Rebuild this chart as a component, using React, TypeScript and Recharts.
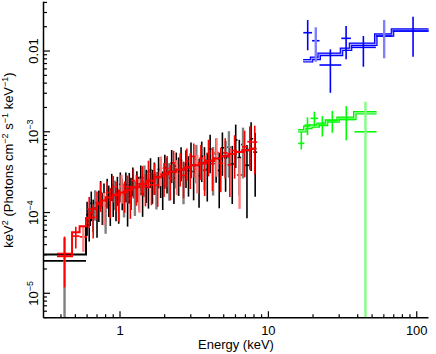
import React from 'react'
import { ComposedChart, XAxis, YAxis, Line, Scatter, ErrorBar } from 'recharts'

const FONT = '"Liberation Sans", Arial, Helvetica, sans-serif'

const X_MIN = 0.305
const X_MAX = 120
const Y_MIN = 4.97e-6
const Y_MAX = 0.0407

// axis ticks
const xTicks = [0.4, 0.5, 0.6, 0.7, 0.8, 0.9, 1, 2, 3, 4, 5, 6, 7, 8, 9, 10, 20, 30, 40, 50, 60, 70, 80, 90, 100]
const xLabelTicks = [1, 10, 100]
const yTicks = [
	5e-6, 6e-6, 7e-6, 8e-6, 9e-6, 1e-5, 2e-5, 3e-5, 4e-5, 5e-5, 6e-5, 7e-5, 8e-5, 9e-5,
	1e-4, 2e-4, 3e-4, 4e-4, 5e-4, 6e-4, 7e-4, 8e-4, 9e-4, 1e-3, 2e-3, 3e-3, 4e-3, 5e-3,
	6e-3, 7e-3, 8e-3, 9e-3, 0.01, 0.02, 0.03, 0.04,
]
const yLabelTicks = [1e-5, 1e-4, 1e-3, 0.01]
const yLabels = [['10', '−5'], ['10', '−4'], ['10', '−3'], ['0.01', '']]

// black data set: bin edges (keV), flux, relative error
const blackEdges = [
	0.303, 0.59,
	0.61, 0.63, 0.65, 0.67, 0.69, 0.71, 0.73, 0.75, 0.77, 0.79, 0.81, 0.83, 0.85, 0.87, 0.89, 0.91,
	0.93, 0.95, 0.97, 0.99,
	1.02, 1.05, 1.08, 1.11, 1.14, 1.17, 1.2, 1.24, 1.28, 1.32, 1.36, 1.4, 1.44, 1.48, 1.53, 1.58,
	1.63, 1.68, 1.73, 1.79, 1.85, 1.91, 1.97, 2.04,
	2.11, 2.19, 2.27, 2.35, 2.44, 2.53, 2.63, 2.73, 2.84, 2.95, 3.07, 3.2, 3.34, 3.48, 3.63, 3.79,
	3.96,
	4.14, 4.34, 4.55, 4.78, 5.02, 5.28, 5.56, 5.86, 6.19, 6.55, 6.95, 7.4, 7.9, 8.4,
]
const blackFlux = [
	2.52e-5,
	9.4e-5, 7.8e-5, 1.3e-4, 1.01e-4, 1.34e-4, 9.0e-5, 1.32e-4, 1.78e-4, 1.23e-4, 1.63e-4,
	1.03e-4, 1.88e-4, 1.52e-4, 1.24e-4, 2.2e-4, 1.52e-4, 1.78e-4, 1.39e-4, 1.99e-4, 1.32e-4,
	2.24e-4, 1.84e-4, 1.58e-4, 2.23e-4, 1.34e-4, 2.19e-4, 1.89e-4, 2.6e-4, 1.68e-4, 2.29e-4,
	1.92e-4, 2.73e-4, 1.7e-4, 2.7e-4, 2.35e-4, 2.07e-4, 3.36e-4, 2.33e-4, 2.91e-4, 2.14e-4,
	3.42e-4, 2.75e-4, 2.15e-4, 3.58e-4, 3.24e-4, 2.75e-4, 4.13e-4, 2.66e-4, 3.76e-4, 3.21e-4,
	4.43e-4, 2.75e-4, 3.95e-4, 3.28e-4, 5.01e-4, 3.22e-4, 4.59e-4, 2.87e-4, 4.97e-4, 4.16e-4,
	3.42e-4, 6.13e-4, 4.05e-4, 5.3e-4, 3.32e-4, 6.33e-4, 4.76e-4, 6.44e-4, 3.98e-4, 7.92e-4,
	4.79e-4, 6.95e-4, 3.85e-4, 8.19e-4, 5.6e-4,
]
const blackErr = [
	0.93,
	0.45, 0.44, 0.4, 0.43, 0.41, 0.46, 0.42, 0.38, 0.43, 0.4,
	0.47, 0.39, 0.42, 0.45, 0.37, 0.42, 0.4, 0.44, 0.39, 0.45,
	0.4, 0.42, 0.45, 0.4, 0.5, 0.41, 0.43, 0.39, 0.46, 0.42,
	0.44, 0.4, 0.48, 0.42, 0.44, 0.46, 0.4, 0.45, 0.43, 0.49,
	0.42, 0.45, 0.5, 0.45, 0.47, 0.49, 0.44, 0.52, 0.47, 0.5,
	0.45, 0.54, 0.49, 0.52, 0.47, 0.56, 0.5, 0.6, 0.52, 0.55,
	0.6, 0.5, 0.6, 0.56, 0.66, 0.55, 0.62, 0.58, 0.68, 0.55,
	0.66, 0.62, 0.78, 0.6, 0.72,
]
const blackFaint = [0, 5, 11, 17, 23, 29, 34, 40, 46, 52, 57, 63, 68, 72]
const blackModelEdges = [
	0.303, 0.59, 0.628, 0.65, 0.7, 0.75, 0.8, 0.9, 1.0, 1.1, 1.2, 1.35, 1.5, 1.7, 1.9, 2.1, 2.4,
	2.7, 3.0, 3.4, 3.8, 4.3, 4.8, 5.4, 6.0, 6.7, 7.5, 8.3,
]
const blackModel = [
	3.03e-5, 7.0e-5, 1.0e-4, 1.12e-4, 1.27e-4, 1.41e-4, 1.53e-4, 1.65e-4, 1.77e-4, 1.89e-4, 2.05e-4,
	2.25e-4, 2.47e-4, 2.73e-4, 2.97e-4, 3.19e-4, 3.42e-4, 3.62e-4, 3.84e-4, 4.09e-4, 4.37e-4,
	4.66e-4, 4.96e-4, 5.3e-4, 5.61e-4, 5.9e-4, 6.15e-4,
]

// red data set
const redEdges = [
	0.376, 0.475, 0.534, 0.6, 0.64, 0.68, 0.72, 0.76, 0.8, 0.84, 0.88, 0.92, 0.96, 1.0, 1.05, 1.1,
	1.15, 1.2, 1.26, 1.32, 1.38, 1.45, 1.52, 1.59, 1.67, 1.75, 1.84, 1.93, 2.03, 2.13, 2.24, 2.36,
	2.48, 2.61, 2.75, 2.9, 3.06, 3.23, 3.41, 3.61, 3.83, 4.07, 4.33, 4.62, 4.94, 5.3, 5.7, 6.15,
	6.65, 7.2, 7.8, 8.4,
]
const redFlux = [
	3.11e-5, 5.11e-5, 5.0e-5,
	1.1e-4, 8.7e-5, 1.32e-4, 1.69e-4, 1.22e-4, 1.77e-4, 1.43e-4, 2.08e-4, 1.72e-4, 1.35e-4,
	2.11e-4, 1.71e-4, 2.08e-4, 1.49e-4, 2.49e-4, 2.06e-4, 1.81e-4, 2.68e-4, 2.09e-4, 3.18e-4,
	2.2e-4, 2.86e-4, 2.18e-4, 3.53e-4, 2.84e-4, 3.52e-4, 2.67e-4, 4.12e-4, 3.05e-4, 3.76e-4,
	2.89e-4, 4.33e-4, 3.69e-4, 4.94e-4, 3.45e-4, 4.69e-4, 3.34e-4, 5.39e-4, 4.02e-4, 5.54e-4,
	4.06e-4, 5.48e-4, 3.9e-4, 5.84e-4, 2.92e-4, 6.52e-4, 7.53e-4, 7.44e-4,
]
const redErr = [
	0.62, 0.3, 0.35,
	0.42, 0.45, 0.38, 0.4, 0.43, 0.37, 0.41, 0.36, 0.4, 0.43,
	0.39, 0.42, 0.38, 0.44, 0.4, 0.41, 0.45, 0.4, 0.43, 0.38,
	0.44, 0.42, 0.46, 0.4, 0.45, 0.42, 0.47, 0.41, 0.46, 0.44,
	0.48, 0.43, 0.47, 0.45, 0.5, 0.46, 0.52, 0.48, 0.54, 0.5,
	0.56, 0.52, 0.6, 0.55, 0.62, 0.58, 0.55, 0.6,
]
const redFaint = [2, 7, 13, 19, 26, 31, 37, 42, 47]
const redModelEdges = [
	0.376, 0.475, 0.534, 0.59, 0.628, 0.65, 0.7, 0.75, 0.8, 0.9, 1.0, 1.1, 1.2, 1.35, 1.5, 1.7, 1.9,
	2.1, 2.4, 2.7, 3.0, 3.4, 3.8, 4.3, 4.8, 5.4, 6.0, 6.7, 7.5, 8.3,
]
const redModel = [
	2.88e-5, 5.71e-5, 6.78e-5, 8.53e-5, 1.0e-4, 1.12e-4, 1.27e-4, 1.41e-4, 1.53e-4, 1.65e-4,
	1.77e-4, 1.89e-4, 2.05e-4, 2.25e-4, 2.47e-4, 2.73e-4, 2.97e-4, 3.19e-4, 3.42e-4, 3.62e-4,
	3.84e-4, 4.09e-4, 4.37e-4, 4.66e-4, 4.96e-4, 5.3e-4, 5.61e-4, 5.9e-4, 6.15e-4,
]

// hard band: blue and green
const blueEdges = [17.2, 19.7, 22.1, 31.0, 36.0, 53.0, 68.6, 130]
const blueFlux = [0.01686, 0.01341, 0.00671, 0.01436, 0.01111, 0.01535, 0.0177]
const blueErrLo = [0.395, 0.45, 0.547, 0.45, 0.425, 0.47, 0.52]
const blueErrHi = [0.435, 0.467, 0.565, 0.42, 0.38, 0.577, 0.503]
const blueFaint = [1, 5]
const blueModelEdges = [17.16, 19.54, 21.99, 31.11, 35.78, 52.96, 68.61, 130]
const blueModel = [0.00758, 0.00812, 0.0091, 0.0105, 0.01211, 0.01578, 0.0182]

const greenEdges = [15.88, 17.5, 19.24, 21.65, 24.65, 29.51, 38.0, 53.54]
const greenFlux = [7.18e-4, 1.211e-3, 1.466e-3, 1.211e-3, 1.368e-3, 1.424e-3, 1.0e-3]
const greenErrLo = [0.16, 0.25, 0.21, 0.28, 0.29, 0.45, 0.999]
const greenErrHi = [0.39, 0.245, 0.21, 0.29, 0.33, 0.46, 1.355]
const greenFaint = [6]
const greenModelEdges = [15.88, 17.61, 19.33, 21.65, 24.65, 29.51, 38.24, 53.54]
const greenModel = [1.029e-3, 1.133e-3, 1.177e-3, 1.235e-3, 1.357e-3, 1.466e-3, 1.719e-3]

interface Pt {
	e: number
	f: number
	xErr: number[]
	yErr: number[]
}

// error bars are cut at the frame, like the plot window does
function toPoints(edges: number[], flux: number[], errLo: number[], errHi: number[]): Pt[] {
	return flux.map((f, i) => {
		const e = Math.sqrt(edges[i] * edges[i + 1])
		const lo = Math.max(edges[i], X_MIN)
		const hi = Math.min(edges[i + 1], X_MAX)
		const fLo = Math.max(f * (1 - errLo[i]), Y_MIN)
		const fHi = Math.min(f * (1 + errHi[i]), Y_MAX)
		return { e, f, xErr: [e - lo, hi - e], yErr: [f - fLo, fHi - f] }
	})
}

function toSteps(edges: number[], vals: number[]) {
	return edges.map((e, i) => ({ e, f: vals[Math.min(i, vals.length - 1)] }))
}

const Nothing = () => <g />

function BottomTick({ x, y, payload }: any) {
	const major = xLabelTicks.includes(payload.value)
	return (
		<g>
			<line x1={x} x2={x} y1={y} y2={y - (major ? 6.5 : 3.5)} stroke="#000" strokeWidth={1.2} />
			{major && (
				<text x={x} y={y + 17} textAnchor="middle" fontSize={13} fontFamily={FONT} fill="#000">
					{payload.value}
				</text>
			)}
		</g>
	)
}

function TopTick({ x, y, payload }: any) {
	const major = xLabelTicks.includes(payload.value)
	return <line x1={x} x2={x} y1={y} y2={y + (major ? 6.5 : 3.5)} stroke="#000" strokeWidth={1.2} />
}

function LeftTick({ x, y, payload }: any) {
	const idx = yLabelTicks.indexOf(payload.value)
	const major = idx >= 0
	return (
		<g>
			<line x1={x} x2={x + (major ? 6.5 : 3.5)} y1={y} y2={y} stroke="#000" strokeWidth={1.2} />
			{major && (
				<text
					transform={`translate(${x - 5.8}, ${y}) rotate(-90)`}
					textAnchor="middle"
					fontSize={13}
					fontFamily={FONT}
					fill="#000"
				>
					{yLabels[idx][0]}
					{yLabels[idx][1] && (
						<tspan dy={-5} fontSize={9}>
							{yLabels[idx][1]}
						</tspan>
					)}
				</text>
			)}
		</g>
	)
}

function RightTick({ x, y, payload }: any) {
	const major = yLabelTicks.includes(payload.value)
	return <line x1={x} x2={x - (major ? 6.5 : 3.5)} y1={y} y2={y} stroke="#000" strokeWidth={1.2} />
}

function dataSeries(name: string, pts: Pt[], faint: number[], color: string, light: string) {
	const normal = pts.filter((_, i) => !faint.includes(i))
	const pale = pts.filter((_, i) => faint.includes(i))
	return [
		<Scatter
			key={`${name}-pale`}
			data={pale}
			dataKey="f"
			xAxisId="b"
			yAxisId="l"
			shape={Nothing}
			legendType="none"
			isAnimationActive={false}
		>
			<ErrorBar dataKey="xErr" direction="x" width={0} stroke={color} strokeWidth={1.6} />
			<ErrorBar dataKey="yErr" direction="y" width={0} stroke={light} strokeWidth={2.4} />
		</Scatter>,
		<Scatter
			key={`${name}-main`}
			data={normal}
			dataKey="f"
			xAxisId="b"
			yAxisId="l"
			shape={Nothing}
			legendType="none"
			isAnimationActive={false}
		>
			<ErrorBar dataKey="xErr" direction="x" width={0} stroke={color} strokeWidth={1.6} />
			<ErrorBar dataKey="yErr" direction="y" width={0} stroke={color} strokeWidth={1.6} />
		</Scatter>,
	]
}

function modelLine(name: string, data: { e: number; f: number }[], stroke: string, width: number) {
	return (
		<Line
			key={name}
			data={data}
			dataKey="f"
			xAxisId="b"
			yAxisId="l"
			type="stepAfter"
			stroke={stroke}
			strokeWidth={width}
			dot={false}
			activeDot={false}
			legendType="none"
			isAnimationActive={false}
		/>
	)
}

export default function App() {
	const blackPts = toPoints(blackEdges, blackFlux, blackErr, blackErr)
	const redPts = toPoints(redEdges, redFlux, redErr, redErr)
	const bluePts = toPoints(blueEdges, blueFlux, blueErrLo, blueErrHi)
	const greenPts = toPoints(greenEdges, greenFlux, greenErrLo, greenErrHi)

	const xDomain = [X_MIN, X_MAX]
	const yDomain = [Y_MIN, Y_MAX]

	return (
		<div style={{ position: 'relative', width: 436, height: 354, fontFamily: FONT }}>
			<style>{'body{margin:0}'}</style>
			<ComposedChart width={436} height={354} margin={{ top: 1.8, right: 7.5, bottom: 0, left: 0 }}>
				<XAxis
					xAxisId="b"
					dataKey="e"
					type="number"
					scale="log"
					domain={xDomain}
					allowDataOverflow
					ticks={xTicks}
					interval={0}
					tick={<BottomTick />}
					tickLine={false}
					tickSize={0}
					tickMargin={0}
					height={36.2}
					axisLine={{ stroke: '#000', strokeWidth: 1.5 }}
				/>
				<XAxis
					xAxisId="t"
					orientation="top"
					dataKey="e"
					type="number"
					scale="log"
					domain={xDomain}
					allowDataOverflow
					ticks={xTicks}
					interval={0}
					tick={<TopTick />}
					tickLine={false}
					tickSize={0}
					tickMargin={0}
					height={0}
					axisLine={{ stroke: '#000', strokeWidth: 1.5 }}
				/>
				<YAxis
					yAxisId="l"
					type="number"
					scale="log"
					domain={yDomain}
					allowDataOverflow
					ticks={yTicks}
					interval={0}
					tick={<LeftTick />}
					tickLine={false}
					tickSize={0}
					tickMargin={0}
					width={43.5}
					axisLine={{ stroke: '#000', strokeWidth: 1.5 }}
				/>
				<YAxis
					yAxisId="r"
					orientation="right"
					type="number"
					scale="log"
					domain={yDomain}
					allowDataOverflow
					ticks={yTicks}
					interval={0}
					tick={<RightTick />}
					tickLine={false}
					tickSize={0}
					tickMargin={0}
					width={0}
					axisLine={{ stroke: '#000', strokeWidth: 1.5 }}
				/>
				{dataSeries('black', blackPts, blackFaint, '#000000', '#808080')}
				{modelLine('black-model', toSteps(blackModelEdges, blackModel), '#000000', 2)}
				{dataSeries('red', redPts, redFaint, '#ff0000', '#ff8080')}
				{modelLine('red-model', toSteps(redModelEdges, redModel), '#ff0000', 2)}
				{modelLine('green-model', toSteps(greenModelEdges, greenModel), '#00ee00', 3.6)}
				{modelLine('green-model-in', toSteps(greenModelEdges, greenModel), '#a0ffa0', 1.3)}
				{dataSeries('green', greenPts, greenFaint, '#00ff00', '#80ff80')}
				{modelLine('blue-model', toSteps(blueModelEdges, blueModel), '#0000ff', 3.6)}
				{modelLine('blue-model-in', toSteps(blueModelEdges, blueModel), '#a0a0ff', 1.3)}
				{dataSeries('blue', bluePts, blueFaint, '#0000ff', '#8080ff')}
			</ComposedChart>
			<svg
				width={436}
				height={354}
				style={{ position: 'absolute', left: 0, top: 0, pointerEvents: 'none' }}
			>
				<text x={236} y={349} textAnchor="middle" fontSize={13} fontFamily={FONT} fill="#000">
					Energy (keV)
				</text>
				<text
					transform="translate(12.5, 160) rotate(-90)"
					textAnchor="middle"
					fontSize={13}
					fontFamily={FONT}
					fill="#000"
				>
					keV
					<tspan dy={-5} fontSize={9}>2</tspan>
					<tspan dy={5}> (Photons cm</tspan>
					<tspan dy={-5} fontSize={9}>−2</tspan>
					<tspan dy={5}> s</tspan>
					<tspan dy={-5} fontSize={9}>−1</tspan>
					<tspan dy={5}> keV</tspan>
					<tspan dy={-5} fontSize={9}>−1</tspan>
					<tspan dy={5}>)</tspan>
				</text>
			</svg>
		</div>
	)
}
